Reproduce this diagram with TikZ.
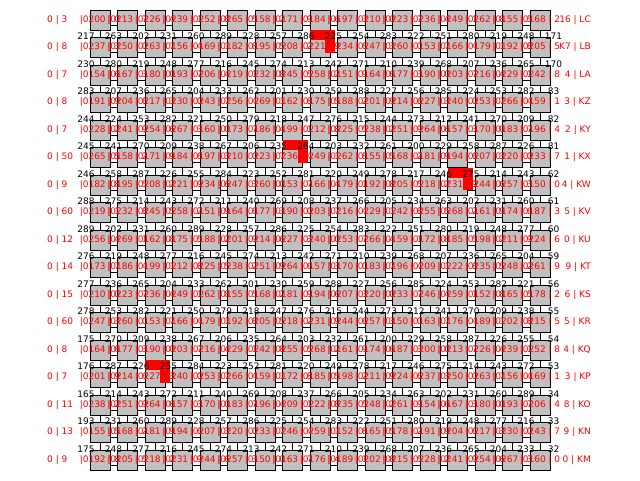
\documentclass[tikz,border=0pt]{standalone}
\usepackage{fontspec}
\setmainfont{DejaVu Sans}
\usetikzlibrary{backgrounds}
\definecolor{boxgray}{RGB}{192,192,192}
\begin{document}
\begin{tikzpicture}[x=1pt,y=-1pt,
  cell/.style={draw=black,fill=boxgray,minimum width=20pt,minimum height=20pt,inner sep=0pt,line width=0.8pt},
  redlbl/.style={text=red,font=\fontsize{9}{9}\selectfont,inner sep=0pt},
  blklbl/.style={text=black,font=\fontsize{9}{9}\selectfont,inner sep=0pt},
  link/.style={draw=black,line width=0.8pt},
  hl/.style={fill=red,draw=none}]
\useasboundingbox (0,0) rectangle (640,480);
% boxes
\foreach \r in {1,...,17}{
  \foreach \c in {1,...,17}{
    \node[cell] (b-\r-\c) at ({100+27.5*(\c-1)},{20+27.5*(\r-1)}) {};
  }}
% connectors behind boxes
\begin{pgfonlayer}{background}
\foreach \r in {1,...,16}{
  \pgfmathtruncatemacro\rn{\r+1}
  \foreach \c in {1,...,17}{
    \draw[link] (b-\r-\c.center) -- (b-\rn-\c.center);
  }}
\foreach \r in {1,...,17}{
  \foreach \c in {1,...,16}{
    \pgfmathtruncatemacro\cn{\c+1}
    \draw[link] ([yshift=-5pt]b-\r-\c.center) -- ([yshift=-5pt]b-\r-\cn.center);
  }}
\end{pgfonlayer}
% red highlights
\foreach \r/\c in {2/9,6/8,7/14,14/3}{
  \pgfmathsetmacro\L{100+27.5*(\c-1)-10}
  \pgfmathsetmacro\T{20+27.5*(\r-1)-10}
  \fill[hl] (\L,\T-7.5) rectangle (\L+25,\T+2.5);
  \fill[hl] (\L+15,\T-7.5) rectangle (\L+25,\T+15);
}
% labels
\foreach \r/\ll/\rl/\lb/\rb in {
  1/{0 | 3}/{16 | LC}/0/0,
  2/{0 | 8}/{K7 | LB}/217/171,
  3/{0 | 7}/{4 | LA}/230/170,
  4/{0 | 8}/{3 | KZ}/283/83,
  5/{0 | 7}/{2 | KY}/244/82,
  6/{0 | 50}/{1 | KX}/245/81,
  7/{0 | 9}/{4 | KW}/246/62,
  8/{0 | 60}/{5 | KV}/288/61,
  9/{0 | 12}/{0 | KU}/289/60,
  10/{0 | 14}/{9 | KT}/276/59,
  11/{0 | 15}/{6 | KS}/277/56,
  12/{0 | 60}/{5 | KR}/278/55,
  13/{0 | 8}/{4 | KQ}/175/54,
  14/{0 | 7}/{3 | KP}/176/53,
  15/{0 | 11}/{8 | KO}/165/34,
  16/{0 | 13}/{9 | KN}/193/33,
  17/{0 | 9}/{0 | KM}/175/32}{
  \pgfmathsetmacro\yy{20+27.5*(\r-1)}
  \node[redlbl,anchor=west] (ll-\r) at (47,\yy) {\ll};
  \node[redlbl,anchor=east] (rl-\r) at (591,\yy) {\rl};
  \foreach \c in {1,...,17}{
    \pgfmathtruncatemacro\v{150+mod(\r*37+\c*13,120)}
    \pgfmathtruncatemacro\d{mod(\r*3+\c*7,10)}
    \node[redlbl] (t-\r-\c) at (b-\r-\c) {|0\v\ | \d};
  }
  \ifnum\r>1
    \node[blklbl] (n-\r-0) at (86,\yy-11) {\lb};
    \node[blklbl] (n-\r-17) at (553.5,\yy-11) {\rb};
    \foreach \k in {1,...,16}{
      \pgfmathtruncatemacro\w{200+mod(\r*17+\k*29,90)}
      \node[blklbl] (n-\r-\k) at ({86+27.5*\k},\yy-11) {\w};
    }
  \fi
}
\end{tikzpicture}
\end{document}
